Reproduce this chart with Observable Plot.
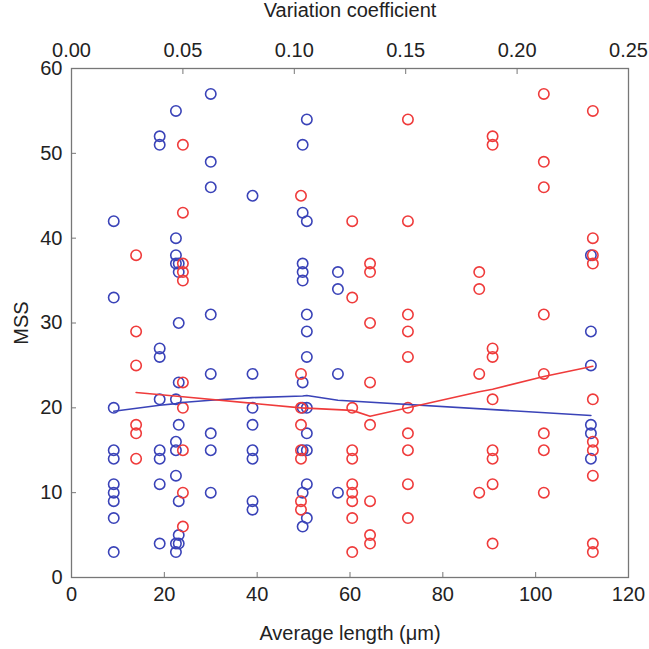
<!DOCTYPE html>
<html>
<head>
<meta charset="utf-8">
<script src="https://cdn.jsdelivr.net/npm/d3@7"></script>
<script src="https://cdn.jsdelivr.net/npm/@observablehq/plot@0.6"></script>
<style>
  html, body { margin: 0; padding: 0; background: #fff; }
</style>
</head>
<body>
<div id="chart"></div>
<script>
// Blue series: MSS vs average length (µm), bottom axis
const avgLength = [9.1, 19, 22.5, 23.1, 30, 39, 49.8, 50.7, 57.4, 111.9];
const mssByLength = [
  [42, 33, 20, 15, 14, 11, 10, 9, 7, 3],
  [52, 51, 27, 26, 21, 15, 14, 11, 4],
  [55, 40, 38, 37, 21, 16, 15, 12, 4, 3],
  [37, 36, 30, 23, 18, 9, 5, 4],
  [57, 49, 46, 31, 24, 17, 15, 10],
  [45, 24, 20, 18, 15, 14, 9, 8],
  [51, 43, 37, 36, 35, 23, 20, 15, 10, 6],
  [54, 42, 31, 29, 26, 20, 17, 15, 11, 7],
  [36, 34, 24, 10],
  [38, 29, 25, 18, 17, 14]
];
const lengthTrend = [19.6, 20.3, 20.5, 20.6, 20.9, 21.2, 21.4, 21.45, 20.9, 19.1];

// Red series: MSS vs variation coefficient, top axis
const varCoef = [0.029, 0.050, 0.103, 0.126, 0.134, 0.151, 0.183, 0.189, 0.212, 0.234];
const mssByVarCoef = [
  [38, 29, 25, 18, 17, 14],
  [51, 43, 37, 36, 35, 23, 20, 15, 10, 6],
  [45, 24, 20, 18, 15, 14, 9, 8],
  [42, 33, 20, 15, 14, 11, 10, 9, 7, 3],
  [37, 36, 30, 23, 18, 9, 5, 4],
  [54, 42, 31, 29, 26, 20, 17, 15, 11, 7],
  [36, 34, 24, 10],
  [52, 51, 27, 26, 21, 15, 14, 11, 4],
  [57, 49, 46, 31, 24, 17, 15, 10],
  [55, 40, 38, 37, 21, 16, 15, 12, 4, 3]
];
const varCoefTrend = [21.8, 21.3, 20.0, 19.7, 19.0, 20.0, 21.9, 22.2, 23.7, 24.9];

const lengthTicks = [0, 20, 40, 60, 80, 100, 120];
const varCoefTicks = [0, 0.05, 0.10, 0.15, 0.20, 0.25];
const mssTicks = [0, 10, 20, 30, 40, 50, 60];

// The top axis shares the x scale: 0.25 of variation coefficient spans 120 µm
const vcToLen = 120 / 0.25;

const bluePts = avgLength.flatMap((x, i) => mssByLength[i].map(y => ({x, y})));
const redPts = varCoef.flatMap((v, i) => mssByVarCoef[i].map(y => ({v, y})));
const blueLine = avgLength.map((x, i) => ({x, y: lengthTrend[i]}));
const redLine = varCoef.map((v, i) => ({v, y: varCoefTrend[i]}));

const BLUE = "#3a43b8";
const RED = "#ef3b3b";

const chart = Plot.plot({
  width: 649,
  height: 649,
  marginLeft: 71,
  marginRight: 21,
  marginTop: 68,
  marginBottom: 72,
  style: { fontFamily: "Liberation Sans, Arial, sans-serif", fontSize: "20px", color: "#222", background: "#fff" },
  x: { domain: [0, 120] },
  y: { domain: [0, 60] },
  marks: [
    Plot.frame({ stroke: "#777", strokeWidth: 1.3 }),
    Plot.axisX({ anchor: "bottom", ticks: lengthTicks, tickSize: -5, tickPadding: 14, stroke: "#777",
      label: "Average length (μm)", labelAnchor: "center", labelArrow: "none", labelOffset: 62 }),
    Plot.axisX({ anchor: "top", ticks: varCoefTicks.map(v => v * vcToLen), tickSize: -5, tickPadding: 17, stroke: "#777",
      tickFormat: d => (d / vcToLen).toFixed(2),
      label: "Variation coefficient", labelAnchor: "center", labelArrow: "none", labelOffset: 66 }),
    Plot.axisY({ anchor: "left", ticks: mssTicks, tickSize: -5, tickPadding: 14, stroke: "#777",
      label: "MSS", labelAnchor: "center", labelArrow: "none", labelOffset: 58 }),
    Plot.dot(bluePts, { x: "x", y: "y", r: 5.2, stroke: BLUE, strokeWidth: 1.6, fill: "none" }),
    Plot.dot(redPts, { x: d => d.v * vcToLen, y: "y", r: 5.2, stroke: RED, strokeWidth: 1.6, fill: "none" }),
    Plot.line(blueLine, { x: "x", y: "y", stroke: BLUE, strokeWidth: 1.6 }),
    Plot.line(redLine, { x: d => d.v * vcToLen, y: "y", stroke: RED, strokeWidth: 1.6 })
  ]
});
document.getElementById("chart").appendChild(chart);
</script>
</body>
</html>
